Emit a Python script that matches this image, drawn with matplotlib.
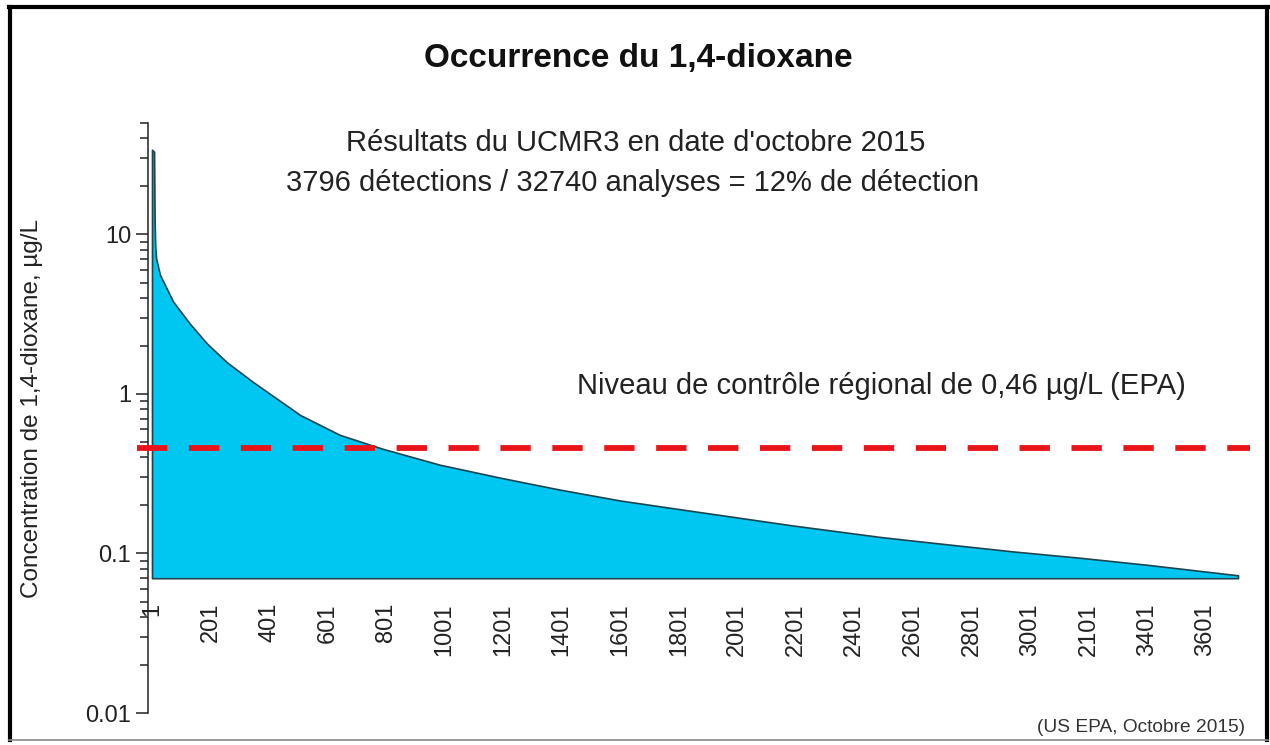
import matplotlib
matplotlib.use("Agg")
import matplotlib.pyplot as plt
from matplotlib.lines import Line2D
from matplotlib.ticker import LogLocator, NullFormatter

plt.rcParams['font.family'] = ['Liberation Sans', 'DejaVu Sans']

# values (rank of the detection, concentration in ug/L)
rank = [1, 8, 10, 12, 15, 28, 73, 131, 189, 257, 346, 507, 643, 790,
        985, 1190, 1392, 1600, 1792, 2189, 2489, 2591, 2944, 3173, 3401, 3712]
conc = [34, 33, 12, 8.5, 7.1, 5.6, 3.8, 2.75, 2.07, 1.58, 1.19, 0.739, 0.554, 0.453,
        0.360, 0.299, 0.252, 0.215, 0.191, 0.150, 0.127, 0.121, 0.103, 0.094, 0.085, 0.073]
base = 0.07
seuil = 0.46

xticks = [1, 201, 401, 601, 801, 1001, 1201, 1401, 1601, 1801, 2001, 2201,
          2401, 2601, 2801, 3001, 3201, 3401, 3601]
# the original chart has "2101" where 3201 should be
xlabels = ['1', '201', '401', '601', '801', '1001', '1201', '1401', '1601', '1801',
           '2001', '2201', '2401', '2601', '2801', '3001', '2101', '3401', '3601']
yticks = [0.01, 0.1, 1, 10]
ylabels = ['0.01', '0.1', '1', '10']

W, H = 1270, 745
fig = plt.figure(figsize=(W / 100, H / 100), dpi=100)

def fx(px):
    return px / W

def fy(py):
    return 1 - py / H

ax = fig.add_axes([fx(148), fy(713), fx(1250) - fx(148), fy(123) - fy(713)])
ax.set_yscale('log')
ax.set_ylim(0.01, 50)
ax.set_xlim(-12.7, 3753)

ax.fill_between(rank, conc, base, facecolor='#00c6f2', edgecolor='#1d4550', lw=1.2, zorder=2)
ax.plot([-50, 3753], [seuil, seuil], color='#e8141a', lw=4.2, dashes=(5.2, 3.7),
        clip_on=False, zorder=3)

for s in ['top', 'right', 'bottom']:
    ax.spines[s].set_visible(False)
ax.spines['bottom'].set_position(('data', 0.053))
ax.spines['left'].set_linewidth(1.1)
ax.spines['left'].set_color('#222222')

ax.set_yticks(yticks)
ax.set_yticklabels(ylabels)
ax.yaxis.set_minor_locator(LogLocator(base=10, subs=range(2, 10)))
ax.yaxis.set_minor_formatter(NullFormatter())
ax.tick_params(axis='y', which='major', length=9, width=1.1, color='#222222',
               labelsize=17, labelcolor='#222222', pad=3)
ax.tick_params(axis='y', which='minor', length=6, width=1.1, color='#222222')

ax.set_xticks(xticks)
ax.set_xticklabels(xlabels, rotation=90)
ax.tick_params(axis='x', length=0, labelsize=17, labelcolor='#222222', pad=4)

fig.text(fx(638), fy(58), 'Occurrence du 1,4-dioxane', ha='center', va='center',
         fontsize=24, fontweight='bold', color='#111111')
fig.text(fx(636), fy(143), "Résultats du UCMR3 en date d'octobre 2015", ha='center',
         va='center', fontsize=21, color='#222222')
fig.text(fx(633), fy(183), '3796 détections / 32740 analyses = 12% de détection',
         ha='center', va='center', fontsize=21, color='#222222')
fig.text(fx(881), fy(386), 'Niveau de contrôle régional de 0,46 µg/L (EPA)', ha='center',
         va='center', fontsize=21, color='#222222')
fig.text(fx(32), fy(408), 'Concentration de 1,4-dioxane, µg/L', ha='center', va='center',
         rotation=90, fontsize=17.5, color='#222222')
fig.text(fx(1245), fy(728), '(US EPA, Octobre 2015)', ha='right', va='center',
         fontsize=13.8, color='#333333')

# frame around the picture
fig.add_artist(Line2D([fx(10), fx(10)], [fy(740), fy(7)], color='black', lw=3))
fig.add_artist(Line2D([fx(9), fx(1268)], [fy(7), fy(7)], color='black', lw=3))
fig.add_artist(Line2D([fx(1267), fx(1267)], [fy(7), fy(740)], color='black', lw=3))
fig.add_artist(Line2D([fx(9), fx(1268)], [fy(740), fy(740)], color='#888888', lw=1.2))

fig.savefig('out.png', dpi=100, facecolor='white')
